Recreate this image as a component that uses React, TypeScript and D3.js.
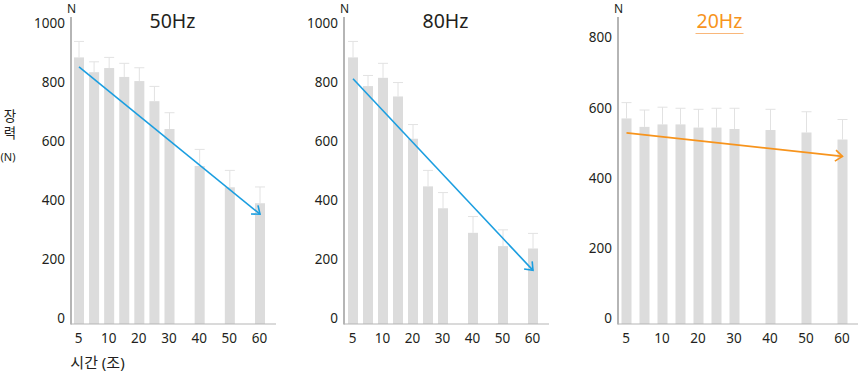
import React from "react";
import * as d3 from "d3";

// x slots: 35, 45, 55 are empty gaps on the axis
const slots = ["5", "7.5", "10", "15", "20", "25", "30", "35", "40", "45", "50", "55", "60"];
const times = ["5", "7.5", "10", "15", "20", "25", "30", "40", "50", "60"];
const xTickLabels = ["5", "10", "20", "30", "40", "50", "60"];

// mean force (N) and upper error per time point
const mean50 = [882, 832, 846, 816, 802, 734, 640, 515, 443, 389];
const err50 = [54, 35, 36, 46, 45, 50, 55, 56, 57, 55];
const mean80 = [882, 785, 813, 750, 607, 446, 372, 289, 244, 236];
const err80 = [54, 36, 49, 47, 48, 54, 53, 55, 55, 51];
const mean20 = [569, 545, 552, 552, 543, 543, 539, 536, 529, 509];
const err20 = [45, 48, 49, 46, 52, 55, 59, 59, 59, 57];

// trend arrows: value at 5 s and at 60 s
const trend50 = [850, 352];
const trend80 = [810, 162];
const trend20 = [528, 461];

const yTicks1000 = [0, 200, 400, 600, 800, 1000];
const yTicks800 = [0, 200, 400, 600, 800];

const FONT = "'Noto Sans', 'Noto Sans CJK KR', sans-serif";
const BAR = "#dcdcdc";
const WHISKER = "#e2e2e2";
const AXIS = "#b5b5b5";
const TEXT = "#231f20";

type PanelProps = {
  title: string;
  titleColor: string;
  underline?: boolean;
  means: number[];
  errs: number[];
  trend: number[];
  trendColor: string;
  yMax: number;
  yTicks: number[];
  yTopPx: number;
  axisX: number;
  xStart: number;
  xEnd: number;
  axisEnd: number;
};

function Panel(p: PanelProps) {
  const x = d3.scalePoint<string>().domain(slots).range([p.xStart, p.xEnd]);
  const y = d3.scaleLinear().domain([0, p.yMax]).range([318.3, p.yTopPx]);
  const base = 324;
  const barW = 10;

  // arrow geometry
  const x1 = x("5")!, y1 = y(p.trend[0]);
  const x2 = x("60")!, y2 = y(p.trend[1]);
  const ang = Math.atan2(y2 - y1, x2 - x1);
  const head = 9;
  const spread = (38 * Math.PI) / 180;
  const hx1 = x2 - head * Math.cos(ang - spread), hy1 = y2 - head * Math.sin(ang - spread);
  const hx2 = x2 - head * Math.cos(ang + spread), hy2 = y2 - head * Math.sin(ang + spread);
  const tx = p.axisX + 101.5;

  return (
    <g>
      {times.map((t, i) => {
        const cx = x(t)!;
        const top = y(p.means[i]);
        const et = y(p.means[i] + p.errs[i]);
        return (
          <g key={t}>
            <line x1={cx} x2={cx} y1={top} y2={et} stroke={WHISKER} strokeWidth={1} />
            <line x1={cx - barW / 2} x2={cx + barW / 2} y1={et} y2={et} stroke={WHISKER} strokeWidth={1} />
            <rect x={cx - barW / 2} y={top} width={barW} height={base - top} fill={BAR} />
          </g>
        );
      })}
      <line x1={p.axisX} x2={p.axisX} y1={17} y2={base + 0.5} stroke={AXIS} strokeWidth={2} />
      <line x1={p.axisX} x2={p.axisEnd} y1={base} y2={base} stroke={AXIS} strokeWidth={1} />
      {p.yTicks.map((v) => (
        <text key={v} x={p.axisX - 6} y={y(v)} textAnchor="end" dominantBaseline="central"
          fontFamily={FONT} fontSize={13.5} fill={TEXT}>{v}</text>
      ))}
      {xTickLabels.map((l) => (
        <text key={l} x={x(l)! - 0.5} y={337.5} textAnchor="middle" dominantBaseline="central"
          fontFamily={FONT} fontSize={13.5} fill={TEXT}>{l}</text>
      ))}
      <text x={p.axisX + 0.5} y={8} textAnchor="middle" dominantBaseline="central"
        fontFamily={FONT} fontSize={12} fill={TEXT}>N</text>
      <text x={tx} y={20} textAnchor="middle" dominantBaseline="central"
        fontFamily={FONT} fontSize={19.5} fill={p.titleColor}>{p.title}</text>
      {p.underline && (
        <line x1={tx - 24} x2={tx + 24} y1={33.5} y2={33.5} stroke="#f9b77a" strokeWidth={1} />
      )}
      <line x1={x1} y1={y1} x2={x2} y2={y2} stroke={p.trendColor} strokeWidth={1.6} />
      <path d={`M${hx1},${hy1}L${x2},${y2}L${hx2},${hy2}`} fill="none" stroke={p.trendColor} strokeWidth={1.6} />
    </g>
  );
}

export default function App() {
  return (
    <svg width={860} height={372} style={{ position: "absolute", left: 0, top: 0, background: "#fff" }}>
      <Panel title="50Hz" titleColor={TEXT} means={mean50} errs={err50} trend={trend50} trendColor="#1b9ee0"
        yMax={1000} yTicks={yTicks1000} yTopPx={22.5} axisX={71} xStart={79} xEnd={260} axisEnd={276} />
      <Panel title="80Hz" titleColor={TEXT} means={mean80} errs={err80} trend={trend80} trendColor="#1b9ee0"
        yMax={1000} yTicks={yTicks1000} yTopPx={22.5} axisX={344} xStart={353} xEnd={533} axisEnd={549} />
      <Panel title="20Hz" titleColor="#f7941d" underline means={mean20} errs={err20} trend={trend20} trendColor="#f7941d"
        yMax={800} yTicks={yTicks800} yTopPx={37.3} axisX={618} xStart={626.5} xEnd={842.5} axisEnd={858} />
      <text x={9} y={109} style={{ writingMode: "vertical-rl" }} letterSpacing={4}
        fontFamily={FONT} fontSize={13.5} fill={TEXT}>장력</text>
      <text x={8} y={156} textAnchor="middle" dominantBaseline="central" fontFamily={FONT} fontSize={11} fill={TEXT}>(N)</text>
      <text x={97.5} y={362} textAnchor="middle" dominantBaseline="central" fontFamily={FONT} fontSize={15} fill={TEXT}>시간 (조)</text>
    </svg>
  );
}
